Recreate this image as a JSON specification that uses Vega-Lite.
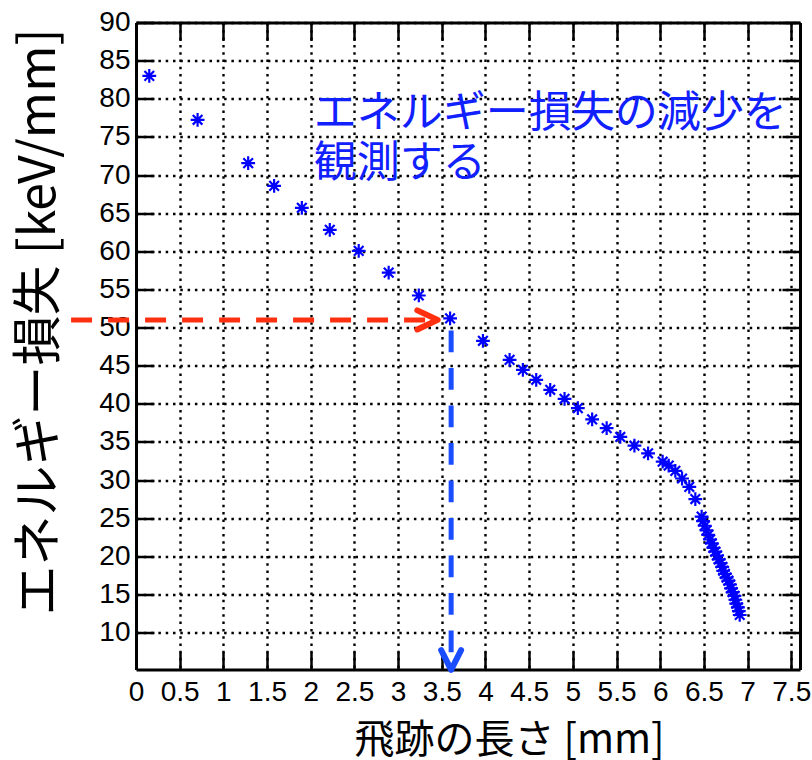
{
  "$schema": "https://vega.github.io/schema/vega-lite/v6.json",
  "width": 664,
  "height": 647,
  "autosize": {"type": "none"},
  "padding": {"left": 136, "top": 22.5, "right": 12, "bottom": 90.5},
  "background": "white",
  "config": {"view": {"stroke": null}},
  "datasets": {
    "pts": [
      {"x": 0.152, "y": 83.0}, {"x": 0.705, "y": 77.24}, {"x": 1.284, "y": 71.56}, {"x": 1.581, "y": 68.58},
      {"x": 1.898, "y": 65.7}, {"x": 2.218, "y": 62.8}, {"x": 2.549, "y": 60.05}, {"x": 2.892, "y": 57.2},
      {"x": 3.237, "y": 54.2}, {"x": 3.595, "y": 51.2}, {"x": 3.971, "y": 48.26}, {"x": 4.276, "y": 45.76},
      {"x": 4.428, "y": 44.45}, {"x": 4.581, "y": 43.14}, {"x": 4.741, "y": 41.83}, {"x": 4.905, "y": 40.65},
      {"x": 5.057, "y": 39.43}, {"x": 5.221, "y": 37.95}, {"x": 5.387, "y": 36.8}, {"x": 5.543, "y": 35.65},
      {"x": 5.705, "y": 34.5}, {"x": 5.861, "y": 33.5}, {"x": 6.028, "y": 32.4}, {"x": 6.097, "y": 31.9},
      {"x": 6.173, "y": 31.2}, {"x": 6.25, "y": 30.2}, {"x": 6.333, "y": 29.1}, {"x": 6.402, "y": 27.5},
      {"x": 6.474, "y": 25.2}, {"x": 6.49, "y": 24.6}, {"x": 6.51, "y": 24.0}, {"x": 6.53, "y": 23.4},
      {"x": 6.55, "y": 22.8}, {"x": 6.57, "y": 22.2}, {"x": 6.59, "y": 21.7}, {"x": 6.61, "y": 21.1},
      {"x": 6.63, "y": 20.6}, {"x": 6.65, "y": 20.1}, {"x": 6.67, "y": 19.6}, {"x": 6.69, "y": 19.1},
      {"x": 6.71, "y": 18.6}, {"x": 6.72, "y": 18.1}, {"x": 6.74, "y": 17.7}, {"x": 6.76, "y": 17.2},
      {"x": 6.78, "y": 16.8}, {"x": 6.8, "y": 16.3}, {"x": 6.81, "y": 15.8}, {"x": 6.83, "y": 15.3},
      {"x": 6.85, "y": 14.8}, {"x": 6.86, "y": 14.3}, {"x": 6.87, "y": 13.8}, {"x": 6.89, "y": 13.3},
      {"x": 6.9, "y": 12.8}, {"x": 6.91, "y": 12.3}
    ],
    "red": [{"x": -0.743, "y": 51.0}, {"x": 3.44, "y": 51.0}],
    "redhead": [{"x": 3.22, "y": 52.25, "o": 1}, {"x": 3.453, "y": 51.0, "o": 2}, {"x": 3.22, "y": 49.75, "o": 3}],
    "blue": [{"x": 3.607, "y": 49.6}, {"x": 3.607, "y": 5.3}],
    "bluehead": [{"x": 3.493, "y": 7.7, "o": 1}, {"x": 3.607, "y": 5.1, "o": 2}, {"x": 3.721, "y": 7.7, "o": 3}],
    "note": [{"x": 2.035, "y": 76.25, "t": "エネルギー損失の減少を\n観測する"}]
  },
  "layer": [
    {
      "data": {"name": "pts"},
      "mark": {"type": "point", "shape": "M-1,0L1,0M0,-1L0,1M-0.7,-0.7L0.7,0.7M-0.7,0.7L0.7,-0.7", "filled": false, "stroke": "#0000ff", "strokeWidth": 2.2, "size": 190, "opacity": 1},
      "encoding": {
        "x": {"field": "x", "type": "quantitative",
          "scale": {"domain": [0, 7.6], "nice": false, "zero": false},
          "axis": {"orient": "bottom", "values": [0, 0.5, 1, 1.5, 2, 2.5, 3, 3.5, 4, 4.5, 5, 5.5, 6, 6.5, 7, 7.5], "format": "~g",
            "grid": true, "gridColor": "black", "gridDash": [2.5, 4.8], "gridWidth": 2.4, "gridOpacity": 1,
            "domainColor": "black", "domainWidth": 3, "tickColor": "black", "tickWidth": 2.5, "tickSize": -18,
            "labelPadding": 27, "labelFont": "Liberation Sans", "labelFontSize": 28, "labelColor": "black",
            "labelFlush": false, "labelOverlap": false, "labelBound": false,
            "title": "飛跡の長さ [mm]", "titleFont": "Noto Sans CJK JP", "titleFontSize": 40, "titleFontWeight": "normal",
            "titleColor": "black", "titleX": 373, "titleY": 71, "titleBaseline": "middle", "titleAlign": "center"}},
        "y": {"field": "y", "type": "quantitative",
          "scale": {"domain": [5.15, 90], "nice": false, "zero": false},
          "axis": {"orient": "left", "values": [10, 15, 20, 25, 30, 35, 40, 45, 50, 55, 60, 65, 70, 75, 80, 85, 90], "format": "~g",
            "grid": true, "gridColor": "black", "gridDash": [2.5, 4.8], "gridWidth": 2.4, "gridOpacity": 1,
            "domainColor": "black", "domainWidth": 3, "tickColor": "black", "tickWidth": 2.5, "tickSize": -18,
            "labelPadding": 24, "labelFont": "Liberation Sans", "labelFontSize": 28, "labelColor": "black",
            "labelFlush": false, "labelOverlap": false, "labelBound": false,
            "title": "エネルギー損失 [keV/mm]", "titleFont": "Noto Sans CJK JP", "titleFontSize": 50, "titleFontWeight": "normal",
            "titleColor": "black", "titleX": -97, "titleY": 299, "titleBaseline": "middle", "titleAlign": "center", "titleAngle": -90}}
      }
    },
    {
      "data": {"name": "red"},
      "mark": {"type": "line", "stroke": "#ff3010", "strokeWidth": 5, "strokeDash": [21, 16], "strokeCap": "butt"},
      "encoding": {
        "x": {"field": "x", "type": "quantitative",
          "axis": {"orient": "top", "values": [0, 0.5, 1, 1.5, 2, 2.5, 3, 3.5, 4, 4.5, 5, 5.5, 6, 6.5, 7, 7.5], "labels": false, "grid": false, "title": null,
            "domainColor": "black", "domainWidth": 3, "tickColor": "black", "tickWidth": 2.5, "tickSize": -18}},
        "y": {"field": "y", "type": "quantitative",
          "axis": {"orient": "right", "values": [10, 15, 20, 25, 30, 35, 40, 45, 50, 55, 60, 65, 70, 75, 80, 85, 90], "labels": false, "grid": false, "title": null,
            "domainColor": "black", "domainWidth": 3, "tickColor": "black", "tickWidth": 2.5, "tickSize": -18}}
      }
    },
    {
      "data": {"name": "redhead"},
      "mark": {"type": "line", "stroke": "#ff3010", "strokeWidth": 6, "strokeCap": "round", "strokeJoin": "round"},
      "encoding": {
        "x": {"field": "x", "type": "quantitative", "axis": null},
        "y": {"field": "y", "type": "quantitative", "axis": null},
        "order": {"field": "o"}
      }
    },
    {
      "data": {"name": "blue"},
      "mark": {"type": "line", "stroke": "#1a4dff", "strokeWidth": 5, "strokeDash": [21.7, 15.8], "strokeCap": "butt"},
      "encoding": {
        "x": {"field": "x", "type": "quantitative", "axis": null},
        "y": {"field": "y", "type": "quantitative", "axis": null},
        "order": {"field": "y", "sort": "descending"}
      }
    },
    {
      "data": {"name": "bluehead"},
      "mark": {"type": "line", "stroke": "#1a4dff", "strokeWidth": 6, "strokeCap": "round", "strokeJoin": "round"},
      "encoding": {
        "x": {"field": "x", "type": "quantitative", "axis": null},
        "y": {"field": "y", "type": "quantitative", "axis": null},
        "order": {"field": "o"}
      }
    },
    {
      "data": {"name": "note"},
      "mark": {"type": "text", "font": "Noto Sans CJK JP", "fontSize": 43, "color": "#1020ff", "align": "left", "baseline": "alphabetic", "lineBreak": "\n", "lineHeight": 50},
      "encoding": {
        "x": {"field": "x", "type": "quantitative", "axis": null},
        "y": {"field": "y", "type": "quantitative", "axis": null},
        "text": {"field": "t"}
      }
    }
  ],
  "resolve": {"axis": {"x": "independent", "y": "independent"}}
}
